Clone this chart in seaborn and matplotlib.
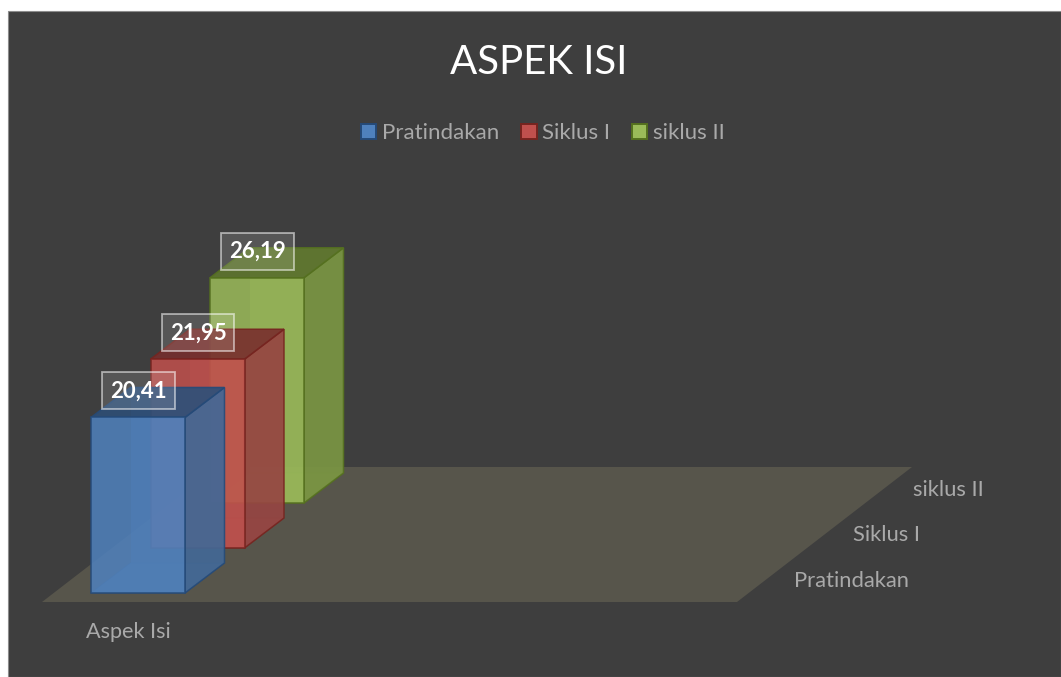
import matplotlib
matplotlib.use("Agg")
import matplotlib.pyplot as plt
from matplotlib.patches import Patch, Polygon, Rectangle
import pandas as pd
import seaborn as sns

# Data
series = ["Pratindakan", "Siklus I", "siklus II"]
values = [20.41, 21.95, 26.19]
labels = ["20,41", "21,95", "26,19"]
category = "Aspek Isi"
title = "ASPEK ISI"

face_colors = ["#4f81bd", "#c0504d", "#9bbb59"]
edge_colors = ["#254a78", "#76241f", "#55701f"]

W, H = 1061, 677
PX_X = 59.5   # pixels per series step along x
PX_Y = 8.6    # pixels per value unit
X0, Y0 = 138, 593   # pixel position of first bar (centre, base)
STEP_Y = 45 / PX_Y
DEPTH_X = 39.5 / PX_X
DEPTH_Y = 30 / PX_Y
BAR_W = 94 / PX_X

df = pd.DataFrame({"pos": range(len(series)), "series": series, "value": values})

sns.set_theme(style="white")
plt.rcParams["font.family"] = ["Lato", "DejaVu Sans"]

fig = plt.figure(figsize=(W / 100, H / 100), dpi=100, facecolor="white")
ax = fig.add_axes([0, 0, 1, 1])
ax.patch.set_alpha(0)


def fig_xy(x, y):
    return (x / W, 1 - y / H)


# panel and floor
fig.add_artist(Rectangle(fig_xy(8, H), (W - 8) / W, (H - 11) / H, transform=fig.transFigure,
                         facecolor="#3e3e3e", edgecolor="#8c8c8c", linewidth=0.8, zorder=-3))
fig.add_artist(Polygon([fig_xy(42, 602), fig_xy(737, 602), fig_xy(912, 467), fig_xy(217, 467)],
                       transform=fig.transFigure, facecolor="#57554b", edgecolor="none", zorder=-2))

# draw back to front so the front bars overlap the others
for i in reversed(range(len(series))):
    row = df[df["pos"] == i]
    before = len(ax.patches)
    sns.barplot(data=row, x="pos", y="value", native_scale=True, width=BAR_W, errorbar=None,
                bottom=i * STEP_Y, color=face_colors[i], saturation=1, ax=ax,
                edgecolor=edge_colors[i], linewidth=1.2, alpha=0.86, zorder=10 + 3 * (2 - i) + 2)
    bar = ax.patches[before]
    x0, x1 = bar.get_x(), bar.get_x() + bar.get_width()
    y0, y1 = bar.get_y(), bar.get_y() + bar.get_height()
    z = 10 + 3 * (2 - i)
    ec, fc = edge_colors[i], face_colors[i]
    # back and floor faces, only faintly visible through the bar
    ax.add_patch(Polygon([(x0 + DEPTH_X, y0 + DEPTH_Y), (x1 + DEPTH_X, y0 + DEPTH_Y),
                          (x1 + DEPTH_X, y1 + DEPTH_Y), (x0 + DEPTH_X, y1 + DEPTH_Y)],
                         facecolor=fc, edgecolor="none", alpha=0.35, zorder=z))
    ax.add_patch(Polygon([(x0, y0), (x1, y0), (x1 + DEPTH_X, y0 + DEPTH_Y), (x0 + DEPTH_X, y0 + DEPTH_Y)],
                         facecolor=fc, edgecolor=ec, linewidth=0.6, alpha=0.45, zorder=z))
    # right side
    ax.add_patch(Polygon([(x1, y0), (x1 + DEPTH_X, y0 + DEPTH_Y), (x1 + DEPTH_X, y1 + DEPTH_Y), (x1, y1)],
                         facecolor=sns.set_hls_values(fc, l=0.42, s=0.38), edgecolor=ec, linewidth=1.1,
                         alpha=0.88, zorder=z + 1))
    # top
    ax.add_patch(Polygon([(x0, y1), (x1, y1), (x1 + DEPTH_X, y1 + DEPTH_Y), (x0 + DEPTH_X, y1 + DEPTH_Y)],
                         facecolor=sns.set_hls_values(fc, l=0.32, s=0.45), edgecolor=ec, linewidth=1.1,
                         alpha=0.88, zorder=z + 1))
    # value label
    ax.text((x0 + x1) / 2 + 0.01, y1 + 26.5 / PX_Y, labels[i], color="white", fontsize=16,
            fontweight="bold", ha="center", va="center", zorder=40,
            bbox=dict(boxstyle="square,pad=0.36", facecolor=(1, 1, 1, 0.13),
                      edgecolor=(1, 1, 1, 0.55), linewidth=1.3))

ax.set_xlim(-X0 / PX_X, (W - X0) / PX_X)
ax.set_ylim(-(H - Y0) / PX_Y, Y0 / PX_Y)
ax.set_axis_off()

# text
text_col = "#a9a9a9"
fig.text(539 / W, 1 - 63 / H, title, color="white", fontsize=29, ha="center", va="center")
fig.text(128 / W, 1 - 632 / H, category, color=text_col, fontsize=15.6, ha="center", va="center")
for name, x, y in zip(series, [794, 853, 913], [581, 535, 490]):
    fig.text(x / W, 1 - y / H, name, color=text_col, fontsize=15.8, ha="left", va="center")

# legend
handles = [Patch(facecolor=f, edgecolor=e, linewidth=1.4, label=s)
           for f, e, s in zip(face_colors, edge_colors, series)]
fig.legend(handles=handles, loc="center", bbox_to_anchor=(543 / W, 1 - 133 / H), ncol=3, frameon=False,
           fontsize=16, labelcolor=text_col, handlelength=0.68, handleheight=0.68,
           handletextpad=0.25, columnspacing=1.0)

fig.savefig("out.png", dpi=100, facecolor=fig.get_facecolor())
